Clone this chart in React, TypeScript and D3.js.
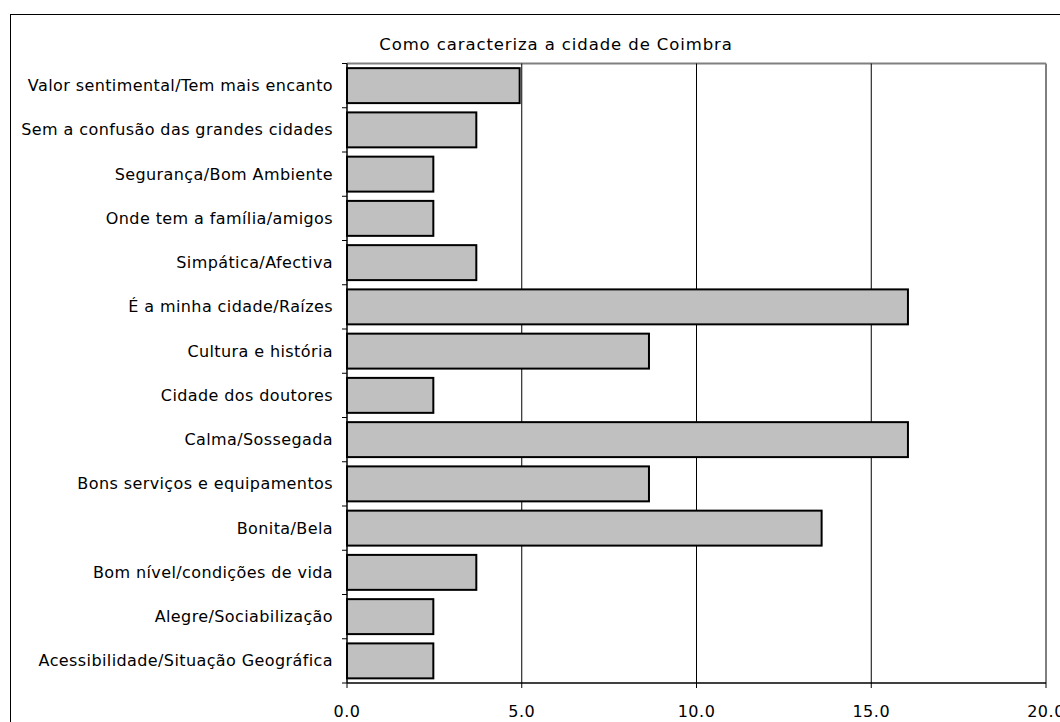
import React from "react";
import * as d3 from "d3";

const categories = [
  "Valor sentimental/Tem mais encanto",
  "Sem a confusão das grandes cidades",
  "Segurança/Bom Ambiente",
  "Onde tem a família/amigos",
  "Simpática/Afectiva",
  "É a minha cidade/Raízes",
  "Cultura e história",
  "Cidade dos doutores",
  "Calma/Sossegada",
  "Bons serviços e equipamentos",
  "Bonita/Bela",
  "Bom nível/condições de vida",
  "Alegre/Sociabilização",
  "Acessibilidade/Situação Geográfica",
];

const values = [4.94, 3.7, 2.47, 2.47, 3.7, 16.05, 8.64, 2.47, 16.05, 8.64, 13.58, 3.7, 2.47, 2.47];

const xTicks = [0, 5, 10, 15, 20];

const title = "Como caracteriza a cidade de Coimbra";

const W = 1060;
const H = 722;
const left = 347;
const right = 1046;
const top = 63.5;
const bottom = 683;
const font = "Tahoma, 'DejaVu Sans', sans-serif";

export default function App() {
  const x = d3.scaleLinear().domain([0, 20]).range([left, right]);
  const y = d3.scaleBand().domain(categories).range([top, bottom]).paddingInner(0.21).paddingOuter(0.105);
  const band = (bottom - top) / categories.length;

  return (
    <svg
      width={W}
      height={H}
      style={{ position: "absolute", left: 0, top: 0, background: "#fff" }}
      fontFamily={font}
    >
      <rect x={10.5} y={14.5} width={W + 20} height={H + 20} fill="#fff" stroke="#000" strokeWidth={1} />
      <text x={556} y={50} fontSize={16.5} letterSpacing={0.9} textAnchor="middle" fill="#000">
        {title}
      </text>
      {/* plot area frame */}
      <line x1={left} x2={right} y1={top} y2={top} stroke="#808080" strokeWidth={2} />
      <line x1={right} x2={right} y1={top} y2={bottom} stroke="#808080" strokeWidth={2} />
      {/* vertical gridlines */}
      {xTicks.slice(1, -1).map((t) => (
        <line key={t} x1={x(t)} x2={x(t)} y1={top} y2={bottom} stroke="#000" strokeWidth={1} />
      ))}
      {/* bars */}
      {categories.map((c, i) => (
        <rect
          key={c}
          x={x(0)}
          y={y(c)!}
          width={x(values[i]) - x(0)}
          height={y.bandwidth()}
          fill="#c0c0c0"
          stroke="#000"
          strokeWidth={2}
        />
      ))}
      {/* y axis */}
      <line x1={left} x2={left} y1={top} y2={bottom} stroke="#000" strokeWidth={1.5} />
      {d3.range(categories.length + 1).map((i) => (
        <line key={i} x1={left - 5} x2={left} y1={top + i * band} y2={top + i * band} stroke="#000" strokeWidth={1} />
      ))}
      {categories.map((c) => (
        <text
          key={c}
          x={333}
          y={y(c)! + y.bandwidth() / 2}
          dy="0.35em"
          fontSize={16}
          letterSpacing={0.4}
          textAnchor="end"
          fill="#000"
        >
          {c}
        </text>
      ))}
      {/* x axis */}
      <line x1={left} x2={right} y1={bottom} y2={bottom} stroke="#000" strokeWidth={1.5} />
      {xTicks.map((t) => (
        <g key={t}>
          <line x1={x(t)} x2={x(t)} y1={bottom} y2={bottom + 5} stroke="#000" strokeWidth={1} />
          <text x={x(t)} y={717} fontSize={16} letterSpacing={0.5} textAnchor="middle" fill="#000">
            {d3.format(".1f")(t)}
          </text>
        </g>
      ))}
    </svg>
  );
}
